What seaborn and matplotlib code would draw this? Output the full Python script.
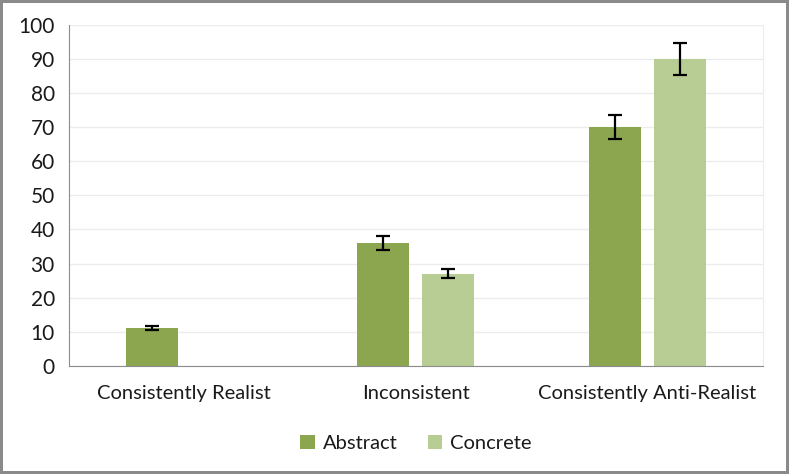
import seaborn as sns
import matplotlib.pyplot as plt
import pandas as pd
import numpy as np

# Data
categories = ['Consistently Realist', 'Inconsistent', 'Consistently Anti-Realist']
abstract = [11, 36, 70]
concrete = [0, 27, 90]
abstract_err = [0.6, 2.0, 3.6]
concrete_err = [0, 1.3, 4.7]

df = pd.DataFrame({
    'category': categories * 2,
    'value': abstract + concrete,
    'err': abstract_err + concrete_err,
    'type': ['Abstract'] * 3 + ['Concrete'] * 3,
})

sns.set_style('white')
plt.rcParams['font.family'] = ['Lato', 'DejaVu Sans']
plt.rcParams['text.color'] = '#1a1a1a'
plt.rcParams['xtick.color'] = '#1a1a1a'
plt.rcParams['ytick.color'] = '#1a1a1a'

fig = plt.figure(figsize=(7.89, 4.74), dpi=100, edgecolor='#8a8a8a', linewidth=3)
ax = fig.add_axes([0.087, 0.228, 0.88, 0.72])

palette = {'Abstract': '#8ba64f', 'Concrete': '#b8cd94'}
sns.barplot(data=df, x='category', y='value', hue='type', palette=palette,
            width=0.56, gap=0.2, ax=ax, errorbar=None, saturation=1, linewidth=0)

# error bars on top of the bars
for bars, name in zip(ax.containers, ['Abstract', 'Concrete']):
    sub = df[df['type'] == name]
    for rect, v, e in zip(bars, sub['value'], sub['err']):
        if v == 0:
            continue
        x = rect.get_x() + rect.get_width() / 2
        ax.errorbar(x, v, yerr=e, fmt='none', ecolor='black', elinewidth=1.6,
                    capsize=5, capthick=1.6)

ax.set_xlim(-0.5, len(categories) - 0.5)
ax.set_ylim(0, 100)
ax.set_yticks(range(0, 101, 10))
ax.yaxis.grid(True, color='#ececec', linewidth=1)
ax.set_axisbelow(True)
ax.set_xlabel('')
ax.set_ylabel('')
ax.tick_params(axis='y', labelsize=15, length=0, pad=10)
ax.tick_params(axis='x', labelsize=14.5, length=0, pad=14)
ax.spines['top'].set_visible(False)
ax.spines['right'].set_color('#ececec')
ax.spines['left'].set_color('#8c8c8c')
ax.spines['bottom'].set_color('#8c8c8c')

ax.legend(loc='upper center', bbox_to_anchor=(0.5, -0.15), ncol=2, frameon=False,
          fontsize=14.5, handlelength=0.7, handleheight=0.7, columnspacing=1.5,
          handletextpad=0.4)

fig.savefig('out.png', dpi=100, edgecolor=fig.get_edgecolor())
